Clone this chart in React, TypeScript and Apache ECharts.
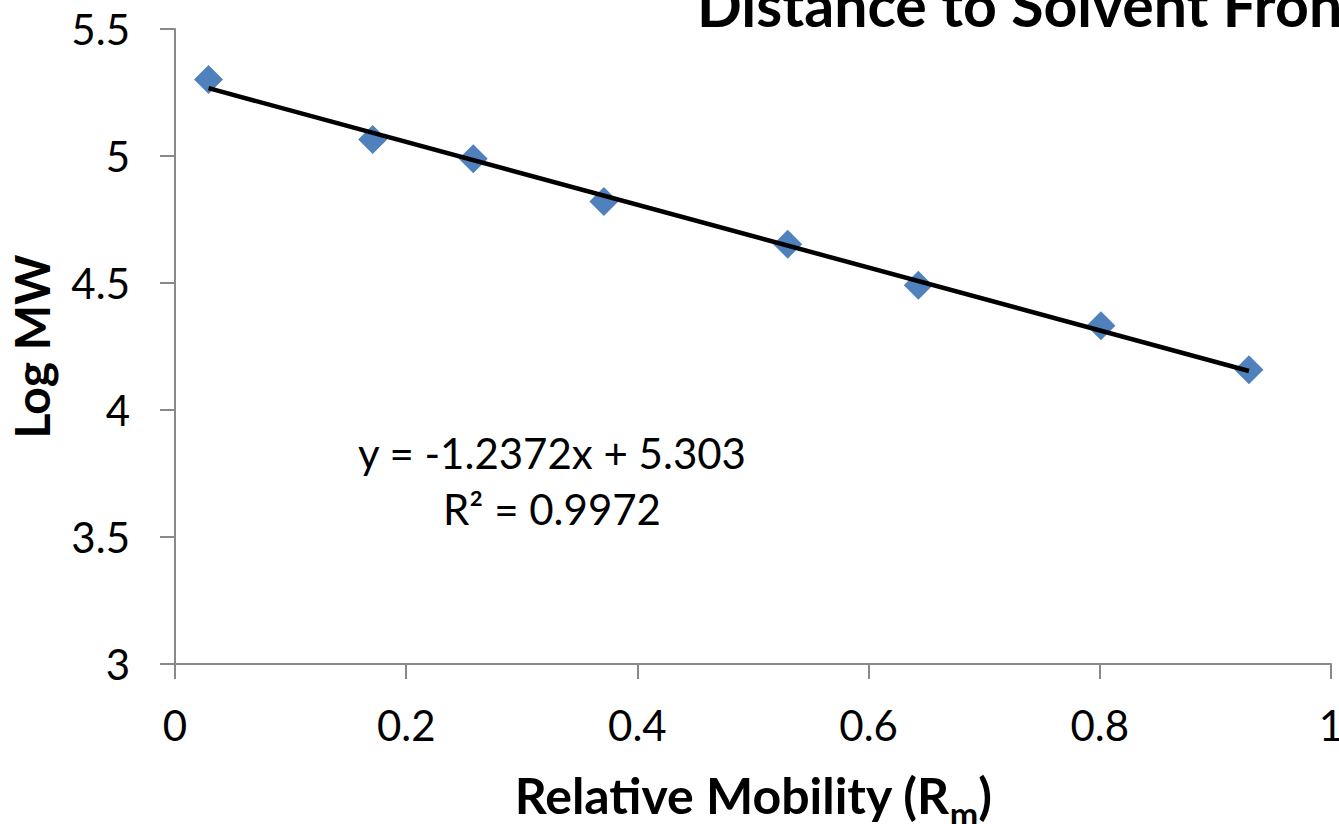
import React, { useEffect, useRef } from "react";
import * as echarts from "echarts";

const rmValues = [0.029, 0.171, 0.258, 0.371, 0.53, 0.643, 0.801, 0.929];
const logMW = [5.301, 5.065, 4.989, 4.821, 4.653, 4.491, 4.332, 4.158];
const trendSlope = -1.2372;
const trendIntercept = 5.303;
const equationLines = ["y = -1.2372x + 5.303", "R² = 0.9972"];
const titleText = "Distance to Solvent Front";
const xTitle = "Relative Mobility (R{sub|m})";
const yTitle = "Log MW";

const FONT = "Lato, 'Open Sans', sans-serif";
const W = 1339;
const H = 824;

export default function App() {
  const ref = useRef<HTMLDivElement>(null);
  useEffect(() => {
    if (!ref.current) return;
    const chart = echarts.init(ref.current, null, { renderer: "svg", width: W, height: H });
    const points = rmValues.map((x, i) => [x, logMW[i]]);
    const x0 = rmValues[0];
    const x1 = rmValues[rmValues.length - 1];
    const trend = [
      [x0, trendIntercept + trendSlope * x0],
      [x1, trendIntercept + trendSlope * x1],
    ];
    const axisLine = { show: true, lineStyle: { color: "#898989", width: 2 } };
    const axisTick = { show: true, length: 15, lineStyle: { color: "#898989", width: 2 } };
    chart.setOption({
      animation: false,
      backgroundColor: "#ffffff",
      grid: {
        left: 175,
        right: 8,
        top: 29,
        bottom: 160,
        containLabel: false,
        outerBoundsMode: "none",
      },
      xAxis: {
        type: "value",
        min: 0,
        max: 1,
        interval: 0.2,
        splitLine: { show: false },
        axisLine,
        axisTick,
        axisLabel: { fontFamily: FONT, fontSize: 42, color: "#000", margin: 40 },
        name: xTitle,
        nameLocation: "middle",
        nameGap: 96,
        nameTextStyle: {
          fontFamily: FONT,
          fontSize: 50,
          fontWeight: "bold",
          color: "#000",
          rich: {
            sub: {
              fontFamily: FONT,
              fontSize: 34,
              fontWeight: "bold",
              color: "#000",
              padding: [36, 0, 0, 0],
            },
          },
        },
      },
      yAxis: {
        type: "value",
        min: 3,
        max: 5.5,
        interval: 0.5,
        splitLine: { show: false },
        axisLine,
        axisTick,
        axisLabel: { fontFamily: FONT, fontSize: 42, color: "#000", margin: 45 },
        name: yTitle,
        nameLocation: "middle",
        nameGap: 120,
        nameRotate: 90,
        nameTextStyle: { fontFamily: FONT, fontSize: 48, fontWeight: "bold", color: "#000" },
      },
      graphic: [
        {
          type: "text",
          x: 697,
          y: 4,
          style: {
            text: titleText,
            font: `bold 59px ${FONT}`,
            fill: "#000",
            align: "left",
            verticalAlign: "middle",
            textAlign: "left",
            textVerticalAlign: "middle",
          },
        },
        {
          type: "text",
          x: 552,
          y: 453,
          style: {
            text: equationLines[0],
            font: `42px ${FONT}`,
            fill: "#000",
            align: "center",
            verticalAlign: "middle",
            textAlign: "center",
            textVerticalAlign: "middle",
          },
        },
        {
          type: "text",
          x: 552,
          y: 509,
          style: {
            text: equationLines[1],
            font: `42px ${FONT}`,
            fill: "#000",
            align: "center",
            verticalAlign: "middle",
            textAlign: "center",
            textVerticalAlign: "middle",
          },
        },
      ],
      series: [
        {
          type: "scatter",
          data: points,
          symbol: "diamond",
          symbolSize: 29,
          itemStyle: { color: "#4F81BD", opacity: 1 },
          z: 2,
        },
        {
          type: "line",
          data: trend,
          showSymbol: false,
          symbol: "none",
          lineStyle: { color: "#000", width: 4.5 },
          z: 3,
        },
      ],
    });
    return () => chart.dispose();
  }, []);
  return (
    <div
      ref={ref}
      style={{ position: "fixed", left: 0, top: 0, width: W, height: H, background: "#fff" }}
    />
  );
}
